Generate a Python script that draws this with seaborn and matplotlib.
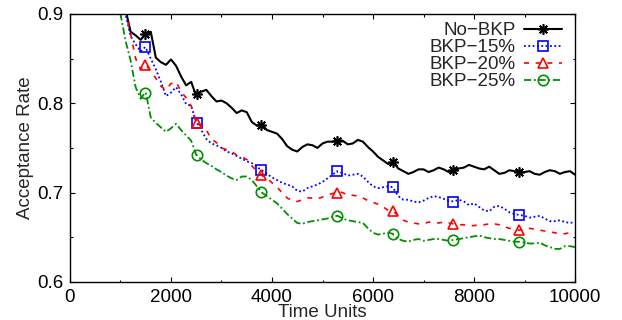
import pandas as pd
import matplotlib
matplotlib.use('Agg')
import matplotlib.pyplot as plt
import matplotlib.ticker as mticker
import seaborn as sns

# Time points (time units): even hundreds, odd hundreds and marker positions
time_grid = list(range(800, 10001, 200))
time_mid = list(range(900, 10000, 200))
marker_time = [1490, 2510, 3790, 5290, 6390, 7590, 8890]

# Acceptance rate
no_bkp = [1.000, 0.930, 0.880, 0.871, 0.880, 0.846, 0.849, 0.830, 0.824, 0.813,
          0.808, 0.803, 0.795, 0.792, 0.779, 0.776, 0.768, 0.760, 0.748, 0.751,
          0.753, 0.755, 0.757, 0.758, 0.755, 0.757, 0.746, 0.736, 0.734, 0.724,
          0.723, 0.726, 0.725, 0.726, 0.725, 0.728, 0.729, 0.726, 0.725, 0.722,
          0.724, 0.723, 0.721, 0.723, 0.724, 0.723, 0.720]
no_bkp_mid = [0.965, 0.905, 0.876, 0.876, 0.851, 0.843, 0.842, 0.820, 0.808, 0.815,
              0.802, 0.800, 0.789, 0.790, 0.775, 0.770, 0.766, 0.752, 0.746, 0.754,
              0.750, 0.757, 0.759, 0.754, 0.759, 0.751, 0.740, 0.732, 0.727, 0.721,
              0.726, 0.723, 0.728, 0.723, 0.727, 0.731, 0.727, 0.729, 0.721, 0.725,
              0.722, 0.724, 0.720, 0.725, 0.721, 0.724]
bkp_15 = [1.000, 0.930, 0.875, 0.858, 0.850, 0.824, 0.812, 0.810, 0.797, 0.770,
          0.755, 0.750, 0.744, 0.738, 0.733, 0.725, 0.717, 0.711, 0.707, 0.701,
          0.707, 0.712, 0.720, 0.722, 0.720, 0.718, 0.707, 0.706, 0.705, 0.692,
          0.690, 0.691, 0.696, 0.693, 0.690, 0.690, 0.688, 0.680, 0.684, 0.682,
          0.676, 0.674, 0.673, 0.671, 0.668, 0.667, 0.667]
bkp_15_mid = [0.965, 0.900, 0.866, 0.862, 0.838, 0.808, 0.818, 0.799, 0.779, 0.760,
              0.753, 0.746, 0.741, 0.735, 0.729, 0.721, 0.714, 0.709, 0.702, 0.705,
              0.709, 0.716, 0.723, 0.719, 0.721, 0.712, 0.705, 0.707, 0.696, 0.692,
              0.689, 0.694, 0.695, 0.691, 0.692, 0.686, 0.684, 0.679, 0.685, 0.678,
              0.675, 0.672, 0.674, 0.668, 0.669, 0.666]
bkp_20 = [1.000, 0.930, 0.878, 0.838, 0.836, 0.819, 0.822, 0.813, 0.797, 0.774,
          0.760, 0.750, 0.746, 0.740, 0.730, 0.719, 0.711, 0.700, 0.691, 0.692,
          0.694, 0.695, 0.699, 0.700, 0.697, 0.694, 0.689, 0.684, 0.679, 0.669,
          0.666, 0.665, 0.666, 0.667, 0.665, 0.664, 0.663, 0.664, 0.665, 0.662,
          0.659, 0.659, 0.659, 0.657, 0.655, 0.654, 0.654]
bkp_20_mid = [0.965, 0.905, 0.850, 0.843, 0.828, 0.815, 0.824, 0.806, 0.777, 0.770,
              0.756, 0.748, 0.742, 0.737, 0.724, 0.716, 0.706, 0.694, 0.690, 0.694,
              0.693, 0.697, 0.701, 0.697, 0.696, 0.691, 0.687, 0.680, 0.674, 0.667,
              0.665, 0.667, 0.666, 0.666, 0.664, 0.663, 0.664, 0.665, 0.664, 0.660,
              0.658, 0.660, 0.658, 0.656, 0.654, 0.655]
bkp_25 = [0.980, 0.900, 0.848, 0.805, 0.784, 0.773, 0.772, 0.770, 0.758, 0.737,
          0.730, 0.723, 0.716, 0.718, 0.714, 0.700, 0.692, 0.682, 0.671, 0.665,
          0.668, 0.670, 0.673, 0.671, 0.668, 0.666, 0.655, 0.654, 0.653, 0.646,
          0.647, 0.646, 0.648, 0.647, 0.647, 0.649, 0.651, 0.650, 0.648, 0.647,
          0.645, 0.644, 0.643, 0.641, 0.637, 0.640, 0.639]
bkp_25_mid = [0.940, 0.870, 0.818, 0.812, 0.778, 0.768, 0.777, 0.764, 0.742, 0.733,
              0.726, 0.719, 0.714, 0.718, 0.707, 0.696, 0.688, 0.676, 0.666, 0.667,
              0.669, 0.671, 0.674, 0.669, 0.667, 0.660, 0.653, 0.655, 0.648, 0.645,
              0.648, 0.647, 0.648, 0.646, 0.648, 0.650, 0.652, 0.649, 0.648, 0.646,
              0.645, 0.643, 0.644, 0.639, 0.637, 0.640]

# Values at the marker positions
no_bkp_marks = [0.877, 0.810, 0.776, 0.758, 0.734, 0.725, 0.723]
bkp_15_marks = [0.863, 0.778, 0.725, 0.724, 0.706, 0.690, 0.675]
bkp_20_marks = [0.843, 0.778, 0.720, 0.700, 0.679, 0.665, 0.658]
bkp_25_marks = [0.812, 0.742, 0.701, 0.674, 0.654, 0.647, 0.645]

labels = ['No\u2212BKP', 'BKP\u221215%', 'BKP\u221220%', 'BKP\u221225%']

sns.set_style('ticks')
plt.rcParams['font.family'] = ['Liberation Sans', 'DejaVu Sans']
plt.rcParams['font.size'] = 13.5

fig = plt.figure(figsize=(6.22, 3.2), dpi=100)
ax = fig.add_axes([0.1125, 0.119, 0.812, 0.8375])

series = [
    (no_bkp, no_bkp_mid, no_bkp_marks, 'black', '-', (8, 2, 0), 1.5),
    (bkp_15, bkp_15_mid, bkp_15_marks, '#0000ff', (0, (1, 1.4)), 's', 1.3),
    (bkp_20, bkp_20_mid, bkp_20_marks, '#ff0000', (0, (3, 4)), '^', 1.2),
    (bkp_25, bkp_25_mid, bkp_25_marks, '#008f00', (0, (4, 1.5, 1, 1.5)), 'o', 1.3),
]

for (vals, mids, marks, color, ls, mk, lw), label in zip(series, labels):
    df = pd.DataFrame({'time': time_grid + time_mid + marker_time,
                       'rate': vals + mids + marks})
    df = df.sort_values('time').reset_index(drop=True)
    every = df['time'].isin(marker_time).tolist()
    sns.lineplot(data=df, x='time', y='rate', ax=ax, color=color,
                 linestyle=ls, linewidth=lw, marker=mk, markevery=every,
                 markersize=7.5, markerfacecolor='none', markeredgecolor=color,
                 markeredgewidth=1.2, label=label)

ax.set_xlim(0, 10000)
ax.set_ylim(0.6, 0.9)
ax.xaxis.set_major_locator(mticker.MultipleLocator(2000))
ax.xaxis.set_minor_locator(mticker.MultipleLocator(1000))
ax.yaxis.set_major_locator(mticker.MultipleLocator(0.1))
ax.yaxis.set_minor_locator(mticker.MultipleLocator(0.05))
ax.yaxis.set_major_formatter(mticker.FormatStrFormatter('%.1f'))
ax.tick_params(which='both', direction='in', top=True, right=True,
               width=0.8, labelsize=13.5, colors='black')
ax.tick_params(which='major', length=3.6, pad=5)
ax.tick_params(which='minor', length=1.8)
for sp in ax.spines.values():
    sp.set_visible(True)
    sp.set_linewidth(1.0)
    sp.set_color('black')

ax.set_xlabel('Time Units', fontsize=13.5, labelpad=-1)
ax.set_ylabel('Acceptance Rate', fontsize=13.5, labelpad=2)

leg = ax.legend(loc='upper right', bbox_to_anchor=(0.974, 0.97),
                frameon=False, markerfirst=False, fontsize=13.5,
                labelspacing=0.0, handlelength=2.0, handletextpad=0.45,
                borderpad=0, borderaxespad=0, numpoints=1)

fig.savefig('out.png', dpi=100)
